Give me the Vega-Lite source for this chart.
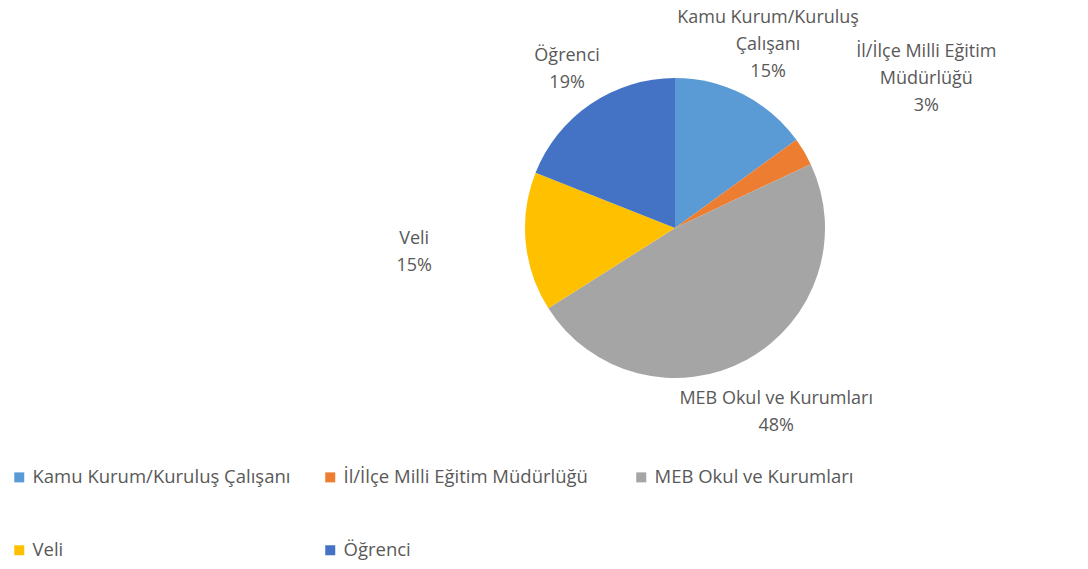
{
  "$schema": "https://vega.github.io/schema/vega-lite/v6.json",
  "autosize": "none",
  "width": 300,
  "height": 300,
  "padding": {"left": 525, "top": 78, "right": 263, "bottom": 191},
  "background": "white",
  "config": {"view": {"stroke": null}, "font": "Open Sans"},
  "data": {
    "values": [
      {"order": 1, "category": "Kamu Kurum/Kuruluş Çalışanı", "pct": 15, "label": "Kamu Kurum/Kuruluş\nÇalışanı\n15%"},
      {"order": 2, "category": "İl/İlçe Milli Eğitim Müdürlüğü", "pct": 3, "label": "İl/İlçe Milli Eğitim\nMüdürlüğü\n3%"},
      {"order": 3, "category": "MEB Okul ve Kurumları", "pct": 48, "label": "MEB Okul ve Kurumları\n48%"},
      {"order": 4, "category": "Veli", "pct": 15, "label": "Veli\n15%"},
      {"order": 5, "category": "Öğrenci", "pct": 19, "label": "Öğrenci\n19%"}
    ]
  },
  "encoding": {
    "theta": {"field": "pct", "type": "quantitative", "stack": true},
    "order": {"field": "order", "type": "quantitative"},
    "color": {
      "field": "category",
      "type": "nominal",
      "scale": {
        "domain": ["Kamu Kurum/Kuruluş Çalışanı", "İl/İlçe Milli Eğitim Müdürlüğü", "MEB Okul ve Kurumları", "Veli", "Öğrenci"],
        "range": ["#5B9BD5", "#ED7D31", "#A5A5A5", "#FFC000", "#4472C4"]
      },
      "legend": {
        "title": null,
        "orient": "none",
        "legendX": -515,
        "legendY": 390,
        "direction": "horizontal",
        "columns": 3,
        "gridAlign": "all",
        "columnPadding": 30,
        "rowPadding": 54,
        "symbolType": "square",
        "symbolSize": 100,
        "symbolOffset": 0,
        "labelFontSize": 18.5,
        "labelColor": "#595959",
        "labelFont": "Open Sans",
        "labelLimit": 400,
        "labelOffset": 4
      }
    }
  },
  "layer": [
    {"mark": {"type": "arc", "outerRadius": 150}},
    {
      "mark": {
        "type": "text",
        "radius": {"expr": "datum.category === 'Veli' ? 262 : (datum.category === 'İl/İlçe Milli Eğitim Müdürlüğü' ? 292 : (datum.category === 'MEB Okul ve Kurumları' ? 210 : (datum.category === 'Öğrenci' ? 192 : 205)))"},
        "dy": {"expr": "-(length(split(datum.label, '\\n')) - 1) * 13.5"},
        "fontSize": 18,
        "lineBreak": "\n",
        "lineHeight": 27,
        "align": "center",
        "baseline": "middle"
      },
      "encoding": {"text": {"field": "label"}, "color": {"value": "#595959"}}
    }
  ]
}
